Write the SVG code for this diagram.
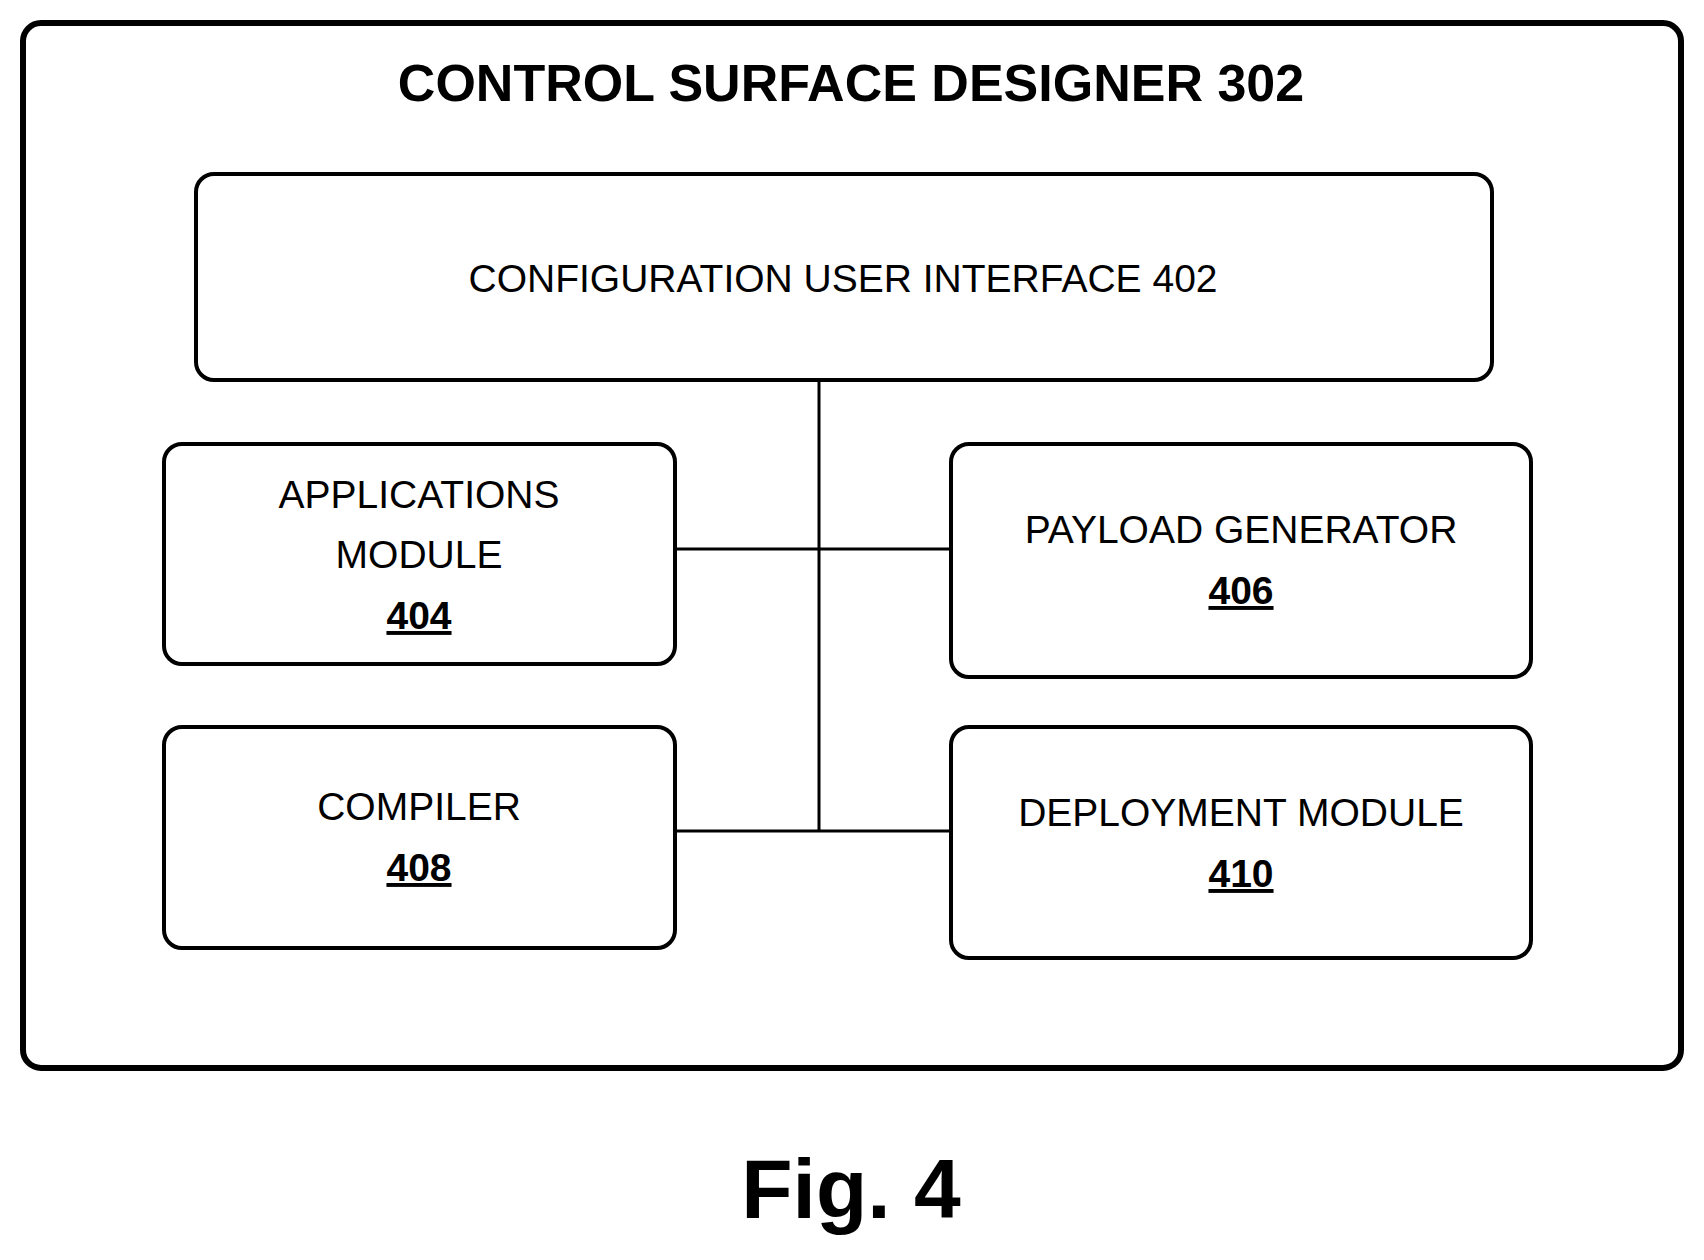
<svg xmlns="http://www.w3.org/2000/svg" width="1704" height="1260" viewBox="0 0 1704 1260">
<style>
.box{fill:#fff;stroke:#000;stroke-width:4}
.t{font-family:"Liberation Sans",Arial,sans-serif;font-size:39px;text-anchor:middle;fill:#000}
.n{font-weight:bold;text-decoration:underline}
.c{stroke:#000;stroke-width:3;fill:none}
</style>
<rect width="1704" height="1260" fill="#fff"/>
<g id="designer">
<rect x="23" y="23" width="1658" height="1045" rx="18" fill="#fff" stroke="#000" stroke-width="6"/>
<text class="t" x="851" y="101" style="font-size:52px;font-weight:bold">CONTROL SURFACE DESIGNER 302</text>
</g>
<g id="connectors">
<line class="c" x1="819" y1="380" x2="819" y2="831"/>
<line class="c" x1="675" y1="549" x2="951" y2="549"/>
<line class="c" x1="675" y1="831" x2="951" y2="831"/>
</g>
<g id="n402"><rect class="box" x="196" y="174" width="1296" height="206" rx="18"/>
<text class="t" x="843" y="292">CONFIGURATION USER INTERFACE  402</text></g>
<g id="n404"><rect class="box" x="164" y="444" width="511" height="220" rx="18"/>
<text class="t" x="419" y="508">APPLICATIONS</text><text class="t" x="419" y="568">MODULE</text><text class="t n" x="419" y="629">404</text></g>
<g id="n406"><rect class="box" x="951" y="444" width="580" height="233" rx="18"/>
<text class="t" x="1241" y="543">PAYLOAD GENERATOR</text><text class="t n" x="1241" y="604">406</text></g>
<g id="n408"><rect class="box" x="164" y="727" width="511" height="221" rx="18"/>
<text class="t" x="419" y="820">COMPILER</text><text class="t n" x="419" y="881">408</text></g>
<g id="n410"><rect class="box" x="951" y="727" width="580" height="231" rx="18"/>
<text class="t" x="1241" y="826">DEPLOYMENT MODULE</text><text class="t n" x="1241" y="887">410</text></g>
<text class="t" x="851" y="1218" style="font-size:84px;font-weight:bold">Fig. 4</text>
</svg>
